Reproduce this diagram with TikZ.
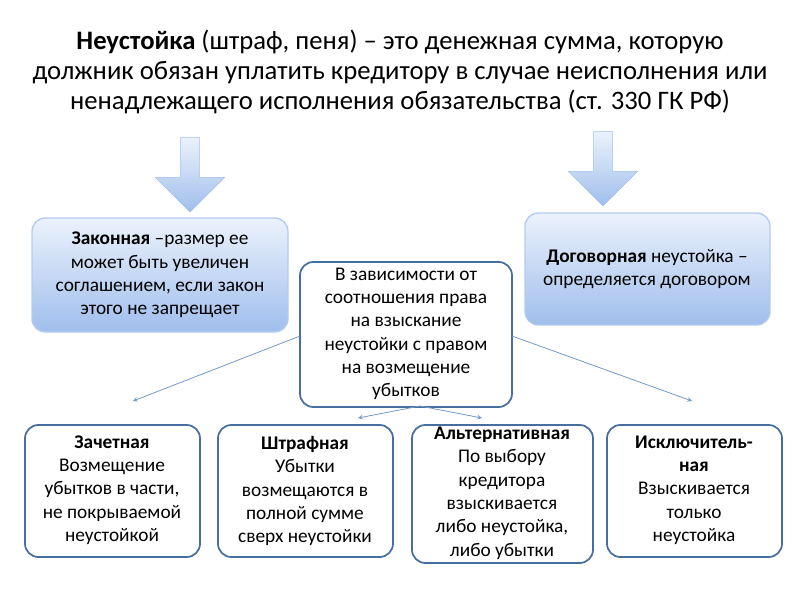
\documentclass[tikz,border=0pt]{standalone}
\usepackage{fontspec}
\setmainfont{Carlito}
\usetikzlibrary{shapes.arrows}
\definecolor{sb}{RGB}{79,129,189}
\definecolor{lb}{RGB}{235,242,252}
\definecolor{mb}{RGB}{160,190,236}
\definecolor{bd}{RGB}{70,110,160}
\begin{document}
\begin{tikzpicture}[x=0.75pt,y=-0.75pt,
 bluebox/.style={draw=mb!80!white,line width=1pt,rounded corners=10pt,top color=lb,bottom color=mb},
 wbox/.style={draw=bd,line width=1.3pt,rounded corners=10pt,fill=white},
 txt/.style={align=center,font=\fontsize{14.5}{17.5}\selectfont},
 big/.style={single arrow,shape border rotate=270,draw=mb,top color=lb,bottom color=mb,minimum width=52pt,single arrow head extend=6pt,minimum height=56pt,inner sep=2pt,anchor=north},
 thin/.style={draw=sb!80!white,line width=0.6pt,->,>=stealth}]
\useasboundingbox (0,0) rectangle (800,600);
\node (title) at (400,72) [align=center,font=\fontsize{20}{22.5}\selectfont] {\textbf{Неустойка} (штраф, пеня) -- это денежная сумма, которую\\должник обязан уплатить кредитору в случае неисполнения или\\ненадлежащего исполнения обязательства (ст. 330 ГК РФ)};
\node (a1) [big] at (190,137) {};
\node (a2) [big] at (603,131) {};
\draw[bluebox] (32,218) rectangle (288,332);
\node (l) [txt] at (160,275) {\textbf{Законная} --размер ее\\может быть увеличен\\соглашением, если закон\\этого не запрещает};
\draw[bluebox] (525,213) rectangle (770,325);
\node (r) [txt] at (647,269) {\textbf{Договорная} неустойка --\\определяется договором};
\draw[wbox] (300,262) rectangle (512,407);
\node (c) [txt] at (406,334) {В зависимости от\\соотношения права\\на взыскание\\неустойки с правом\\на возмещение\\убытков};
\coordinate (cl) at (300,336); \coordinate (cr) at (512,336);
\coordinate (cb) at (420,406);
\draw[wbox] (25,425) rectangle (200,557);
\node (b1) [txt] at (112,490) {\textbf{Зачетная}\\Возмещение\\убытков в части,\\не покрываемой\\неустойкой};
\draw[wbox] (218,425) rectangle (393,557);
\node (b2) [txt] at (305,491) {\textbf{Штрафная}\\Убытки\\возмещаются в\\полной сумме\\сверх неустойки};
\draw[wbox] (412,425) rectangle (593,563);
\node (b3) [txt] at (502,493) {\textbf{Альтернативная}\\По выбору\\кредитора\\взыскивается\\либо неустойка,\\либо убытки};
\draw[wbox] (607,425) rectangle (782,557);
\node (b4) [txt] at (694,490) {\textbf{Исключитель-}\\\textbf{ная}\\Взыскивается\\только\\неустойка};
\draw[thin] (cl) -- (133,401);
\draw[thin] (cr) -- (692,401);
\draw[thin] (cb) -- (358,418);
\draw[thin] (cb) -- (482,418);
\end{tikzpicture}
\end{document}
